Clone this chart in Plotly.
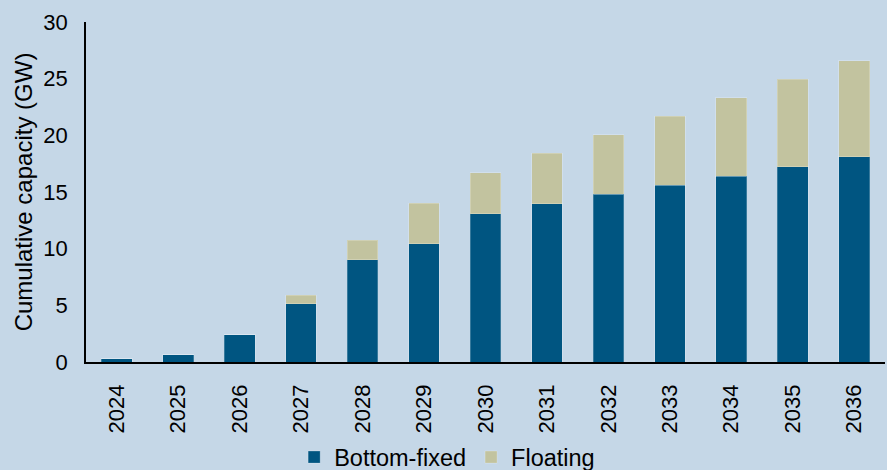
import plotly.graph_objects as go

years = ["2024", "2025", "2026", "2027", "2028", "2029", "2030",
         "2031", "2032", "2033", "2034", "2035", "2036"]
bottom_fixed = [0.27, 0.63, 2.42, 5.15, 9.03, 10.44, 13.1,
                13.96, 14.8, 15.6, 16.4, 17.25, 18.1]
floating = [0.0, 0.0, 0.0, 0.73, 1.7, 3.55, 3.6,
            4.44, 5.24, 6.1, 6.9, 7.7, 8.5]

BG = "#c5d7e7"
FONT = "Liberation Sans, Arial, sans-serif"

fig = go.Figure()
fig.add_trace(go.Bar(
    x=years, y=bottom_fixed, name="Bottom-fixed",
    marker=dict(color="#005581", line=dict(color="rgba(255,255,255,0.22)", width=1)),
))
fig.add_trace(go.Bar(
    x=years, y=floating, name="Floating",
    marker=dict(color="#c2c39f", line=dict(color="rgba(255,255,255,0.22)", width=1)),
))

fig.update_layout(
    barmode="stack",
    bargap=0.5,
    width=887, height=470,
    paper_bgcolor=BG, plot_bgcolor=BG,
    font=dict(family=FONT, size=22, color="#000000"),
    margin=dict(l=86, r=2, t=22, b=108, autoexpand=False),
    showlegend=True,
    legend=dict(
        orientation="h", x=0.452, xanchor="center",
        yref="container", y=0.027, yanchor="middle",
        font=dict(size=23.5), bgcolor="rgba(0,0,0,0)",
        traceorder="normal",
    ),
    xaxis=dict(
        tickangle=-90, showgrid=False, showline=True, linecolor="#000000",
        linewidth=1.5, ticks="", ticklabelstandoff=12, automargin=False,
        tickfont=dict(size=22),
    ),
    yaxis=dict(
        range=[0, 30], dtick=5, showgrid=False, showline=True,
        linecolor="#000000", linewidth=1.5, ticks="", zeroline=False,
        ticklabelstandoff=12, tickfont=dict(size=22), automargin=False,
        title=dict(text="Cumulative capacity (GW)", font=dict(size=24), standoff=4),
    ),
)

fig.write_html(
    "out.html",
    config={"displayModeBar": False},
    post_script="document.body.style.margin='0';document.body.style.background='%s';" % BG,
)
